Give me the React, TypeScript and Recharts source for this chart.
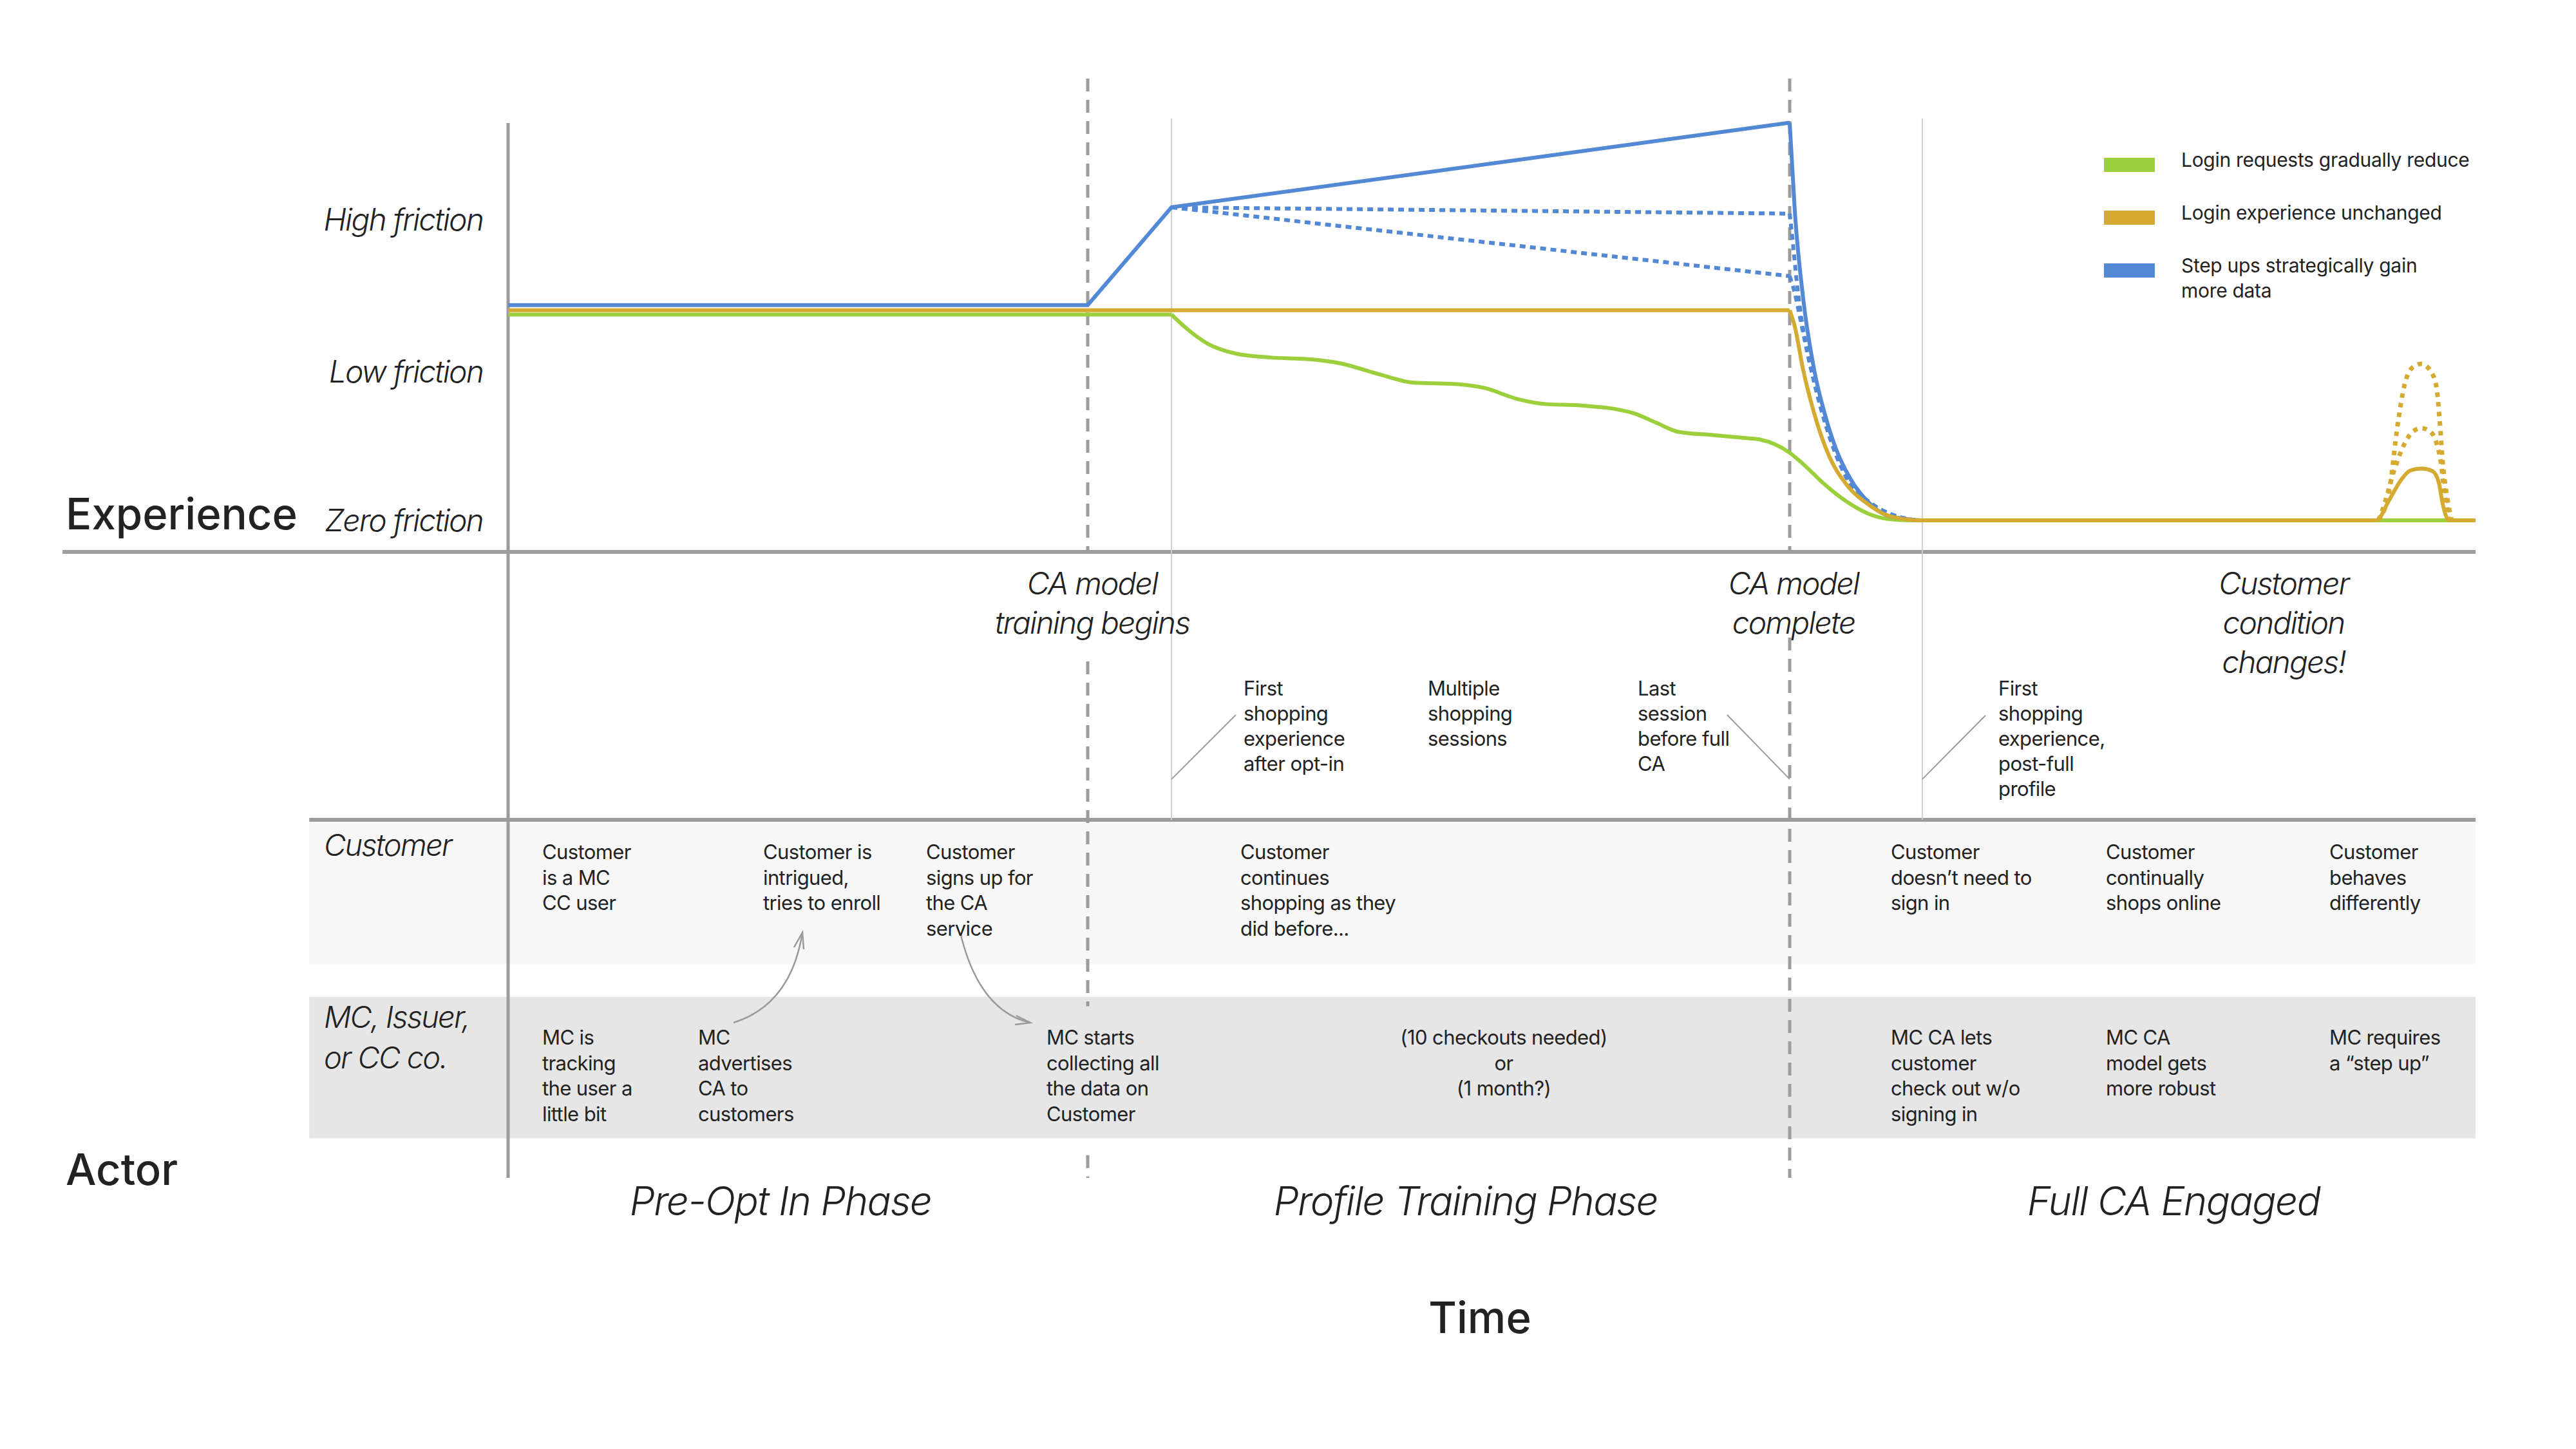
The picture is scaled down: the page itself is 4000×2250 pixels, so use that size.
import React from 'react';
import {
    Legend,
    Line,
    LineChart,
    ReferenceArea,
    ReferenceLine,
    XAxis,
    YAxis,
} from 'recharts';

type Pt = { t: number; f: number };

const W = 4000;
const H = 2250;

const GREEN = '#9BD03C';
const GOLD = '#D4AA30';
const BLUE = '#5288D4';
const RULE = '#9c9c9c';
const THIN = '#cfcfcf';
const INK = '#222';
const FONT = 'Inter, "Noto Sans", sans-serif';

// time runs 0..100 across the plot, friction 0 = zero
const frictionTicks = [0, 2.36, 4.77];
const frictionLabels = ['Zero friction', 'Low friction', 'High friction'];
const phaseTicks = [13.85, 48.67, 84.65];
const phaseLabels = ['Pre-Opt In Phase', 'Profile Training Phase', 'Full CA Engaged'];

const optInAt = 29.46;
const firstShopAt = 33.72;
const modelDoneAt = 65.14;
const firstFullAt = 71.88;

const pts = (a: number[][]): Pt[] => a.map(([t, f]) => ({ t, f }));

const greenLead = pts([[0, 3.26], [33.72, 3.26]]);
const greenFall = pts([
    [33.72, 3.26], [34.37, 3.07], [35.55, 2.8], [37.02, 2.64], [38.76, 2.58],
    [40.82, 2.55], [42.26, 2.49], [44.32, 2.31], [46.06, 2.18], [48.12, 2.16],
    [49.59, 2.1], [51.33, 1.92], [52.8, 1.84], [54.53, 1.82], [57.18, 1.7],
    [58.33, 1.55], [59.51, 1.4], [61.28, 1.35], [63.01, 1.3], [63.63, 1.28],
    [65.14, 1.07], [65.83, 0.89], [66.91, 0.57], [68.02, 0.3], [69.1, 0.11],
    [70.18, 0.02], [71.29, 0], [100, 0],
]);

const blueLead = pts([[0, 3.41], [29.46, 3.41], [33.72, 4.96], [65.14, 6.3]]);
const blueFall = pts([
    [65.14, 6.3], [65.4, 4.9], [65.82, 3.53], [66.38, 2.39], [66.91, 1.7],
    [67.46, 1.16], [68.22, 0.66], [69.1, 0.3], [70.18, 0.07], [71.82, 0],
]);
const blueHighLead = pts([[33.72, 4.96], [65.14, 4.86]]);
const blueHighFall = pts([
    [65.14, 4.86], [65.27, 4.49], [65.5, 3.78], [65.7, 3.27], [66.09, 2.62],
    [66.61, 1.94], [67.27, 1.26], [68.09, 0.66], [69.26, 0.26], [70.18, 0.11], [71.55, 0],
]);
const blueLowLead = pts([[33.72, 4.96], [65.14, 3.87]]);
const blueLowFall = pts([
    [65.14, 3.87], [65.4, 3.6], [65.6, 3.31], [66.06, 2.62], [66.58, 1.94],
    [67.23, 1.26], [68.05, 0.66], [69.33, 0.26], [70.18, 0.11], [71.55, 0],
]);

const goldLead = pts([[0, 3.33], [65.14, 3.33]]);
const goldFall = pts([
    [65.14, 3.33], [65.4, 3.07], [65.82, 2.39], [66.38, 1.7], [67.14, 1.02],
    [68.02, 0.57], [69.1, 0.26], [70.18, 0.07], [71.82, 0], [94.96, 0],
    [95.61, 0.32], [96.17, 0.62], [96.69, 0.79], [97.25, 0.82], [97.81, 0.78],
    [98.14, 0.59], [98.33, 0.26], [98.66, 0], [100, 0],
]);
const goldBumpHigh = pts([
    [95.06, 0], [95.61, 0.46], [96.04, 1.51], [96.37, 2.12], [96.83, 2.43],
    [97.25, 2.48], [97.68, 2.38], [98.01, 2.12], [98.17, 1.61], [98.33, 0.93],
    [98.56, 0.36], [98.79, 0],
]);
const goldBumpMid = pts([
    [95.06, 0], [95.29, 0.18], [95.84, 0.77], [96.37, 1.2], [96.83, 1.41],
    [97.25, 1.46], [97.68, 1.41], [98.01, 1.23], [98.23, 0.93], [98.4, 0.49], [98.66, 0],
]);

const legendOrder = [
    'Login requests gradually reduce',
    'Login experience unchanged',
    'Step ups strategically gain\nmore data',
];

const milestoneCaptions = [
    ['CA model', 'training begins'],
    ['CA model', 'complete'],
    ['Customer', 'condition', 'changes!'],
];
const touchpoints = [
    ['First', 'shopping', 'experience', 'after opt-in'],
    ['Multiple', 'shopping', 'sessions'],
    ['Last', 'session', 'before full', 'CA'],
    ['First', 'shopping', 'experience,', 'post-full', 'profile'],
];
const customerNotes = [
    ['Customer', 'is a MC', 'CC user'],
    ['Customer is', 'intrigued,', 'tries to enroll'],
    ['Customer', 'signs up for', 'the CA', 'service'],
    ['Customer', 'continues', 'shopping as they', 'did before...'],
    ['Customer', 'doesn’t need to', 'sign in'],
    ['Customer', 'continually', 'shops online'],
    ['Customer', 'behaves', 'differently'],
];
const issuerNotes = [
    ['MC is', 'tracking', 'the user a', 'little bit'],
    ['MC', 'advertises', 'CA to', 'customers'],
    ['MC starts', 'collecting all', 'the data on', 'Customer'],
    ['MC CA lets', 'customer', 'check out w/o', 'signing in'],
    ['MC CA', 'model gets', 'more robust'],
    ['MC requires', 'a “step up”'],
];
const trainingNote = ['(10 checkouts needed)', 'or', '(1 month?)'];

// layout (pixels) for the free text
const captionX = [1696, 2785, 3546];
const touchX = [1931, 2217, 2543, 3103];
const customerX = [842, 1185, 1438, 1926, 2936, 3270, 3617];
const issuerX = [842, 1084, 1625, 2936, 3270, 3617];

type BlockProps = {
    x: number;
    y: number;
    lines: string[];
    size: number;
    lh: number;
    anchor?: 'start' | 'middle' | 'end';
    italic?: boolean;
    weight?: number;
    ls?: number;
};

const Block = ({ x, y, lines, size, lh, anchor = 'start', italic = false, weight = 400, ls = 0 }: BlockProps) => (
    <text
        x={x}
        y={y}
        fontSize={size}
        fontWeight={weight}
        fontStyle={italic ? 'italic' : 'normal'}
        textAnchor={anchor}
        letterSpacing={ls}
        fill={INK}
    >
        {lines.map((s, i) => (
            <tspan key={i} x={x} dy={i === 0 ? 0 : lh}>
                {s}
            </tspan>
        ))}
    </text>
);

// eslint-disable-next-line @typescript-eslint/no-explicit-any
const LegendBox = ({ payload }: any) => {
    const items = (payload ?? [])
        // eslint-disable-next-line @typescript-eslint/no-explicit-any
        .filter((p: any) => legendOrder.includes(p.value))
        // eslint-disable-next-line @typescript-eslint/no-explicit-any
        .sort((a: any, b: any) => legendOrder.indexOf(a.value) - legendOrder.indexOf(b.value));
    return (
        <div style={{ position: 'relative', width: 620, height: 260, fontFamily: FONT }}>
            {/* eslint-disable-next-line @typescript-eslint/no-explicit-any */}
            {items.map((it: any, i: number) => (
                <div key={it.value} style={{ position: 'absolute', left: 0, top: i * 82 }}>
                    <div
                        style={{
                            position: 'absolute',
                            left: 0,
                            top: 16,
                            width: 79,
                            height: 22,
                            background: it.color,
                        }}
                    />
                    <div
                        style={{
                            position: 'absolute',
                            left: 120,
                            top: 0,
                            whiteSpace: 'pre',
                            fontSize: 30,
                            lineHeight: '39px',
                            color: INK,
                            letterSpacing: -0.3,
                        }}
                    >
                        {it.value}
                    </div>
                </div>
            ))}
        </div>
    );
};

const italicTick = {
    fill: INK,
    fontSize: 48,
    fontStyle: 'italic',
    fontWeight: 300,
    fontFamily: FONT,
    letterSpacing: -1.9,
};

const App = () => {
    return (
        <div style={{ position: 'absolute', left: 0, top: 0, width: W, height: H, background: '#fff' }}>
            <LineChart
                width={W}
                height={H}
                margin={{ top: 122, right: 156, bottom: 321, left: 339 }}
            >
                <XAxis
                    type="number"
                    dataKey="t"
                    domain={[0, 100]}
                    allowDataOverflow
                    ticks={phaseTicks}
                    interval={0}
                    tickFormatter={(v: number) => phaseLabels[phaseTicks.indexOf(v)] ?? ''}
                    axisLine={false}
                    tickLine={false}
                    tickSize={0}
                    tickMargin={14}
                    height={100}
                    tick={{ ...italicTick, fontSize: 62, letterSpacing: -1.6 }}
                />
                <YAxis
                    type="number"
                    dataKey="f"
                    domain={[-10.42, 7]}
                    allowDataOverflow
                    ticks={frictionTicks}
                    interval={0}
                    tickFormatter={(v: number) => frictionLabels[frictionTicks.indexOf(v)] ?? ''}
                    axisLine={false}
                    tickLine={false}
                    tickSize={0}
                    tickMargin={39}
                    width={450}
                    tick={italicTick}
                />

                <ReferenceArea x1={-10.11} x2={100} y1={-4.745} y2={-7.031} fill="#f7f7f7" fillOpacity={1} stroke="none" ifOverflow="visible" />
                <ReferenceArea x1={-10.11} x2={100} y1={-7.551} y2={-9.796} fill="#e6e6e6" fillOpacity={1} stroke="none" ifOverflow="visible" />

                <ReferenceLine segment={[{ x: -22.65, y: -0.5 }, { x: 100, y: -0.5 }]} stroke={RULE} strokeWidth={6} ifOverflow="visible" />
                <ReferenceLine segment={[{ x: -10.11, y: -4.745 }, { x: 100, y: -4.745 }]} stroke={RULE} strokeWidth={6} ifOverflow="visible" />
                <ReferenceLine segment={[{ x: 0, y: 6.296 }, { x: 0, y: -10.42 }]} stroke={RULE} strokeWidth={5} ifOverflow="visible" />

                <ReferenceLine segment={[{ x: firstShopAt, y: 6.367 }, { x: firstShopAt, y: -4.745 }]} stroke={THIN} strokeWidth={2} ifOverflow="visible" />
                <ReferenceLine segment={[{ x: firstFullAt, y: 6.367 }, { x: firstFullAt, y: -4.745 }]} stroke={THIN} strokeWidth={2} ifOverflow="visible" />
                <ReferenceLine segment={[{ x: firstShopAt, y: -4.102 }, { x: 36.99, y: -3.082 }]} stroke={RULE} strokeWidth={2} ifOverflow="visible" />
                <ReferenceLine segment={[{ x: 61.96, y: -3.082 }, { x: modelDoneAt, y: -4.102 }]} stroke={RULE} strokeWidth={2} ifOverflow="visible" />
                <ReferenceLine segment={[{ x: firstFullAt, y: -4.102 }, { x: 75.09, y: -3.092 }]} stroke={RULE} strokeWidth={2} ifOverflow="visible" />

                <ReferenceLine segment={[{ x: optInAt, y: 7 }, { x: optInAt, y: -0.5 }]} stroke={RULE} strokeWidth={5} strokeDasharray="20 13" ifOverflow="visible" />
                <ReferenceLine segment={[{ x: optInAt, y: -2.235 }, { x: optInAt, y: -7.7 }]} stroke={RULE} strokeWidth={5} strokeDasharray="20 13" ifOverflow="visible" />
                <ReferenceLine segment={[{ x: optInAt, y: -10.06 }, { x: optInAt, y: -10.42 }]} stroke={RULE} strokeWidth={5} strokeDasharray="20 13" ifOverflow="visible" />
                <ReferenceLine segment={[{ x: modelDoneAt, y: 7 }, { x: modelDoneAt, y: -0.5 }]} stroke={RULE} strokeWidth={5} strokeDasharray="20 13" ifOverflow="visible" />
                <ReferenceLine segment={[{ x: modelDoneAt, y: -1.857 }, { x: modelDoneAt, y: -10.42 }]} stroke={RULE} strokeWidth={5} strokeDasharray="20 13" ifOverflow="visible" />

                <Line data={greenLead} dataKey="f" name={legendOrder[0]} type="linear" stroke={GREEN} strokeWidth={6} dot={false} activeDot={false} isAnimationActive={false} />
                <Line data={greenFall} dataKey="f" legendType="none" type="monotone" stroke={GREEN} strokeWidth={6} dot={false} activeDot={false} isAnimationActive={false} />

                <Line data={blueHighLead} dataKey="f" legendType="none" type="linear" stroke={BLUE} strokeWidth={6} strokeDasharray="9 7" dot={false} activeDot={false} isAnimationActive={false} />
                <Line data={blueHighFall} dataKey="f" legendType="none" type="monotone" stroke={BLUE} strokeWidth={6} strokeDasharray="9 7" dot={false} activeDot={false} isAnimationActive={false} />
                <Line data={blueLowLead} dataKey="f" legendType="none" type="linear" stroke={BLUE} strokeWidth={6} strokeDasharray="9 7" dot={false} activeDot={false} isAnimationActive={false} />
                <Line data={blueLowFall} dataKey="f" legendType="none" type="monotone" stroke={BLUE} strokeWidth={6} strokeDasharray="9 7" dot={false} activeDot={false} isAnimationActive={false} />
                <Line data={blueLead} dataKey="f" name={legendOrder[2]} type="linear" stroke={BLUE} strokeWidth={6} dot={false} activeDot={false} isAnimationActive={false} />
                <Line data={blueFall} dataKey="f" legendType="none" type="monotone" stroke={BLUE} strokeWidth={6} dot={false} activeDot={false} isAnimationActive={false} />

                <Line data={goldLead} dataKey="f" name={legendOrder[1]} type="linear" stroke={GOLD} strokeWidth={6} dot={false} activeDot={false} isAnimationActive={false} />
                <Line data={goldFall} dataKey="f" legendType="none" type="monotone" stroke={GOLD} strokeWidth={6} dot={false} activeDot={false} isAnimationActive={false} />
                <Line data={goldBumpHigh} dataKey="f" legendType="none" type="monotone" stroke={GOLD} strokeWidth={7} strokeDasharray="7 8" dot={false} activeDot={false} isAnimationActive={false} />
                <Line data={goldBumpMid} dataKey="f" legendType="none" type="monotone" stroke={GOLD} strokeWidth={7} strokeDasharray="7 8" dot={false} activeDot={false} isAnimationActive={false} />

                <Legend
                    layout="vertical"
                    align="center"
                    verticalAlign="middle"
                    content={<LegendBox />}
                    wrapperStyle={{ left: 3267, top: 229, width: 620, height: 260 }}
                />
            </LineChart>

            <svg
                width={W}
                height={H}
                style={{ position: 'absolute', left: 0, top: 0, pointerEvents: 'none' }}
                fontFamily={FONT}
            >
                <g stroke="#9a9a9a" strokeWidth={2.5} fill="none">
                    <path d="M1139,1588 Q1228,1560 1246,1448" />
                    <path d="M1233,1471 L1246,1448 L1248,1474" />
                    <path d="M1491,1448 Q1520,1570 1600,1588" />
                    <path d="M1576,1591 L1600,1588 L1578,1577" />
                </g>

                <Block x={102} y={822} lines={['Experience']} size={67} lh={0} weight={500} />
                <Block x={102} y={1840} lines={['Actor']} size={67} lh={0} weight={500} />
                <Block x={2298} y={2070} lines={['Time']} size={67} lh={0} weight={500} anchor="middle" />

                {milestoneCaptions.map((lines, i) => (
                    <Block key={i} x={captionX[i]} y={923} lines={lines} size={48} lh={61} anchor="middle" italic weight={300} ls={-1.9} />
                ))}

                <Block x={503} y={1329} lines={['Customer']} size={47} lh={0} italic weight={300} ls={-1.8} />
                <Block x={503} y={1596} lines={['MC, Issuer,', 'or CC co.']} size={47} lh={63} italic weight={300} ls={-1.8} />

                {touchpoints.map((lines, i) => (
                    <Block key={i} x={touchX[i]} y={1080} lines={lines} size={31} lh={39} ls={-0.6} />
                ))}
                {customerNotes.map((lines, i) => (
                    <Block key={i} x={customerX[i]} y={1334} lines={lines} size={31} lh={39.5} ls={-0.6} />
                ))}
                {issuerNotes.map((lines, i) => (
                    <Block key={i} x={issuerX[i]} y={1622} lines={lines} size={31} lh={39.5} ls={-0.6} />
                ))}
                <Block x={2335} y={1622} lines={trainingNote} size={31} lh={39.5} anchor="middle" ls={-0.6} />
            </svg>
        </div>
    );
};

export default App;
